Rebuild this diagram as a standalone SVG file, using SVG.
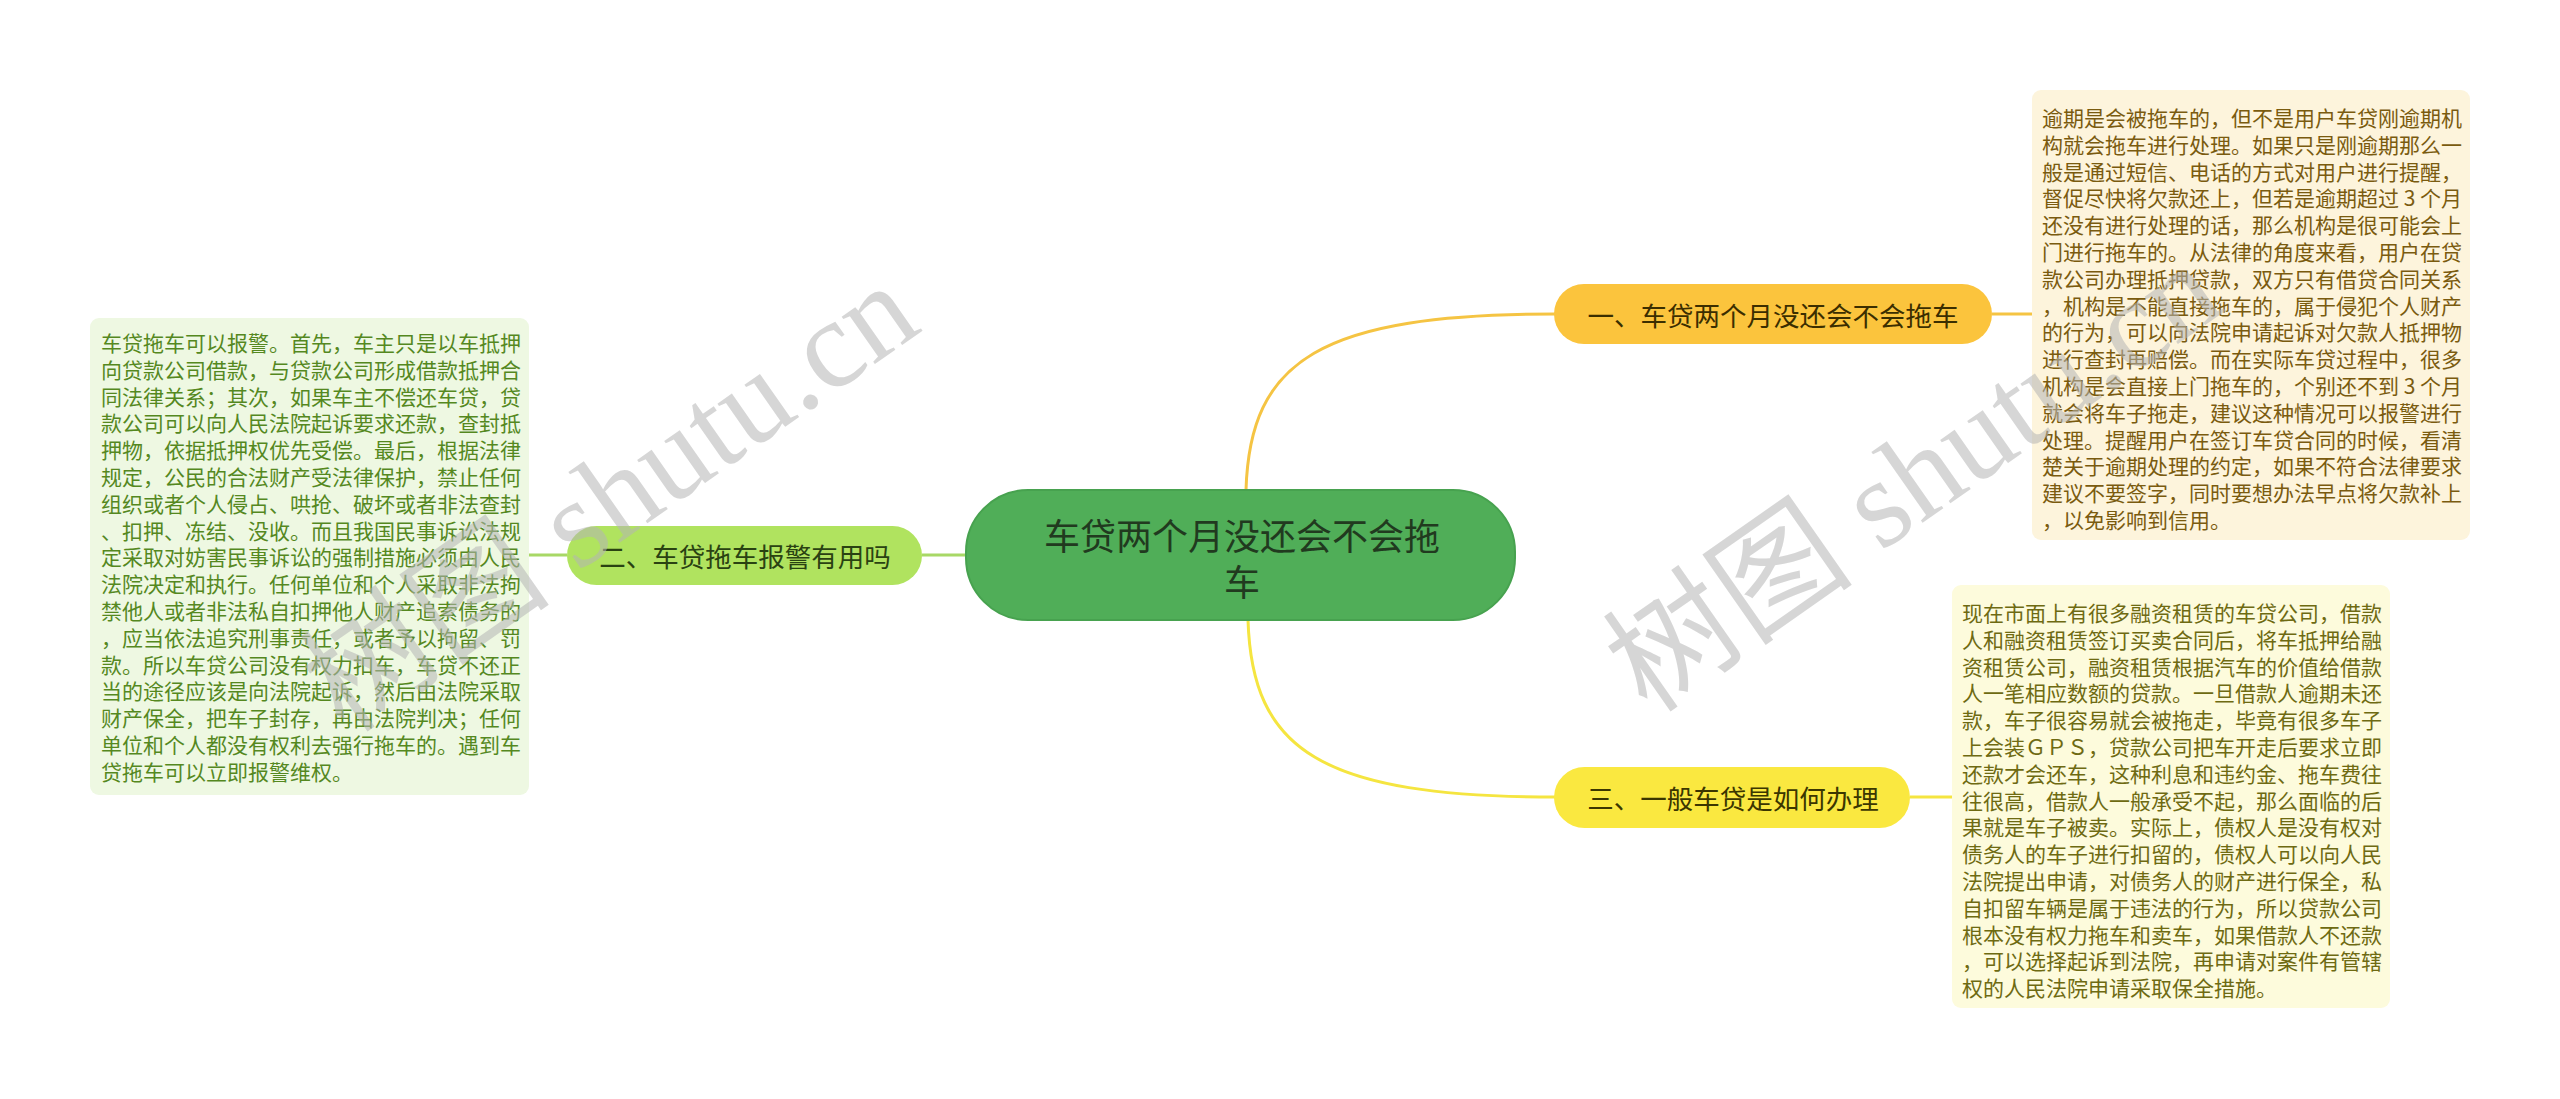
<svg xmlns="http://www.w3.org/2000/svg" width="2560" height="1099" viewBox="0 0 2560 1099">
<style>
.leaf{font-family:"Noto Sans CJK SC","Noto Sans",sans-serif;font-size:21px;dominant-baseline:central}
.lt{fill:#55881f}
.tr{fill:#7a5b0f}
.br{fill:#6e6a12}
.lbl{font-family:"Noto Sans CJK SC","Noto Sans",sans-serif;font-size:26.5px;text-anchor:middle;dominant-baseline:central}
.conn{fill:none;stroke-width:3}
.wm{font-family:"Liberation Serif","Noto Sans CJK SC",serif;font-size:126px;fill:#b4b4b4;fill-opacity:0.55}
</style>
<rect width="2560" height="1099" fill="#ffffff"/>
<g id="connectors">
<path class="conn" stroke="#f5c443" d="M1246,490 C1250,360 1320,314 1556,314"/>
<path class="conn" stroke="#f5e540" d="M1248,620 C1252,750 1320,797 1556,797"/>
<path class="conn" stroke="#a8d866" d="M966,555 L922,555"/>
<path class="conn" stroke="#a8d866" d="M567,555 L528,555"/>
<path class="conn" stroke="#f5c443" d="M1992,314 L2033,314"/>
<path class="conn" stroke="#f5e540" d="M1910,797 L1952,797"/>
</g>
<g id="center">
<rect x="966" y="490" width="549" height="130" rx="62" ry="62" fill="#50ae58" stroke="#47a24f" stroke-width="2"/>
<text font-family="'Noto Sans CJK SC','Noto Sans',sans-serif" font-size="36" fill="#213a1f" text-anchor="middle" dominant-baseline="central"><tspan x="1242" y="534">车贷两个月没还会不会拖</tspan><tspan x="1242" y="580">车</tspan></text>
</g>
<g id="node1">
<rect x="1554" y="284" width="438" height="60" rx="30" fill="#fbc43d"/>
<text class="lbl" x="1773" y="314" fill="#3b2e00">一、车贷两个月没还会不会拖车</text>
</g>
<g id="node2">
<rect x="567" y="526" width="355" height="59" rx="29.5" fill="#b0e35f"/>
<text class="lbl" x="745" y="555.5" fill="#2a4212">二、车贷拖车报警有用吗</text>
</g>
<g id="node3">
<rect x="1554" y="767" width="356" height="61" rx="30.5" fill="#fae840"/>
<text class="lbl" x="1733" y="797.5" fill="#3b3600">三、一般车贷是如何办理</text>
</g>
<g id="leaf-left">
<rect x="90" y="318" width="439" height="477" rx="9" fill="#eef8e2"/>
<text class="leaf lt">
<tspan x="101" y="342">车贷拖车可以报警。首先，车主只是以车抵押</tspan>
<tspan x="101" y="368.8">向贷款公司借款，与贷款公司形成借款抵押合</tspan>
<tspan x="101" y="395.6">同法律关系；其次，如果车主不偿还车贷，贷</tspan>
<tspan x="101" y="422.4">款公司可以向人民法院起诉要求还款，查封抵</tspan>
<tspan x="101" y="449.2">押物，依据抵押权优先受偿。最后，根据法律</tspan>
<tspan x="101" y="476">规定，公民的合法财产受法律保护，禁止任何</tspan>
<tspan x="101" y="502.8">组织或者个人侵占、哄抢、破坏或者非法查封</tspan>
<tspan x="101" y="529.6">、扣押、冻结、没收。而且我国民事诉讼法规</tspan>
<tspan x="101" y="556.4">定采取对妨害民事诉讼的强制措施必须由人民</tspan>
<tspan x="101" y="583.2">法院决定和执行。任何单位和个人采取非法拘</tspan>
<tspan x="101" y="610">禁他人或者非法私自扣押他人财产追索债务的</tspan>
<tspan x="101" y="636.8">，应当依法追究刑事责任，或者予以拘留、罚</tspan>
<tspan x="101" y="663.6">款。所以车贷公司没有权力扣车，车贷不还正</tspan>
<tspan x="101" y="690.4">当的途径应该是向法院起诉，然后由法院采取</tspan>
<tspan x="101" y="717.2">财产保全，把车子封存，再由法院判决；任何</tspan>
<tspan x="101" y="744">单位和个人都没有权利去强行拖车的。遇到车</tspan>
<tspan x="101" y="770.8">贷拖车可以立即报警维权。</tspan>
</text>
</g>
<g id="leaf-top-right">
<rect x="2032" y="90" width="438" height="450" rx="9" fill="#fdf4dc"/>
<text class="leaf tr">
<tspan x="2042" y="117">逾期是会被拖车的，但不是用户车贷刚逾期机</tspan>
<tspan x="2042" y="143.8">构就会拖车进行处理。如果只是刚逾期那么一</tspan>
<tspan x="2042" y="170.6">般是通过短信、电话的方式对用户进行提醒，</tspan>
<tspan x="2042" y="197.4">督促尽快将欠款还上，但若是逾期超过 3 个月</tspan>
<tspan x="2042" y="224.2">还没有进行处理的话，那么机构是很可能会上</tspan>
<tspan x="2042" y="251">门进行拖车的。从法律的角度来看，用户在贷</tspan>
<tspan x="2042" y="277.8">款公司办理抵押贷款，双方只有借贷合同关系</tspan>
<tspan x="2042" y="304.6">，机构是不能直接拖车的，属于侵犯个人财产</tspan>
<tspan x="2042" y="331.4">的行为，可以向法院申请起诉对欠款人抵押物</tspan>
<tspan x="2042" y="358.2">进行查封再赔偿。而在实际车贷过程中，很多</tspan>
<tspan x="2042" y="385">机构是会直接上门拖车的，个别还不到 3 个月</tspan>
<tspan x="2042" y="411.8">就会将车子拖走，建议这种情况可以报警进行</tspan>
<tspan x="2042" y="438.6">处理。提醒用户在签订车贷合同的时候，看清</tspan>
<tspan x="2042" y="465.4">楚关于逾期处理的约定，如果不符合法律要求</tspan>
<tspan x="2042" y="492.2">建议不要签字，同时要想办法早点将欠款补上</tspan>
<tspan x="2042" y="519">，以免影响到信用。</tspan>
</text>
</g>
<g id="leaf-bottom-right">
<rect x="1952" y="585" width="438" height="423" rx="9" fill="#fdfbdc"/>
<text class="leaf br">
<tspan x="1962" y="612">现在市面上有很多融资租赁的车贷公司，借款</tspan>
<tspan x="1962" y="638.8">人和融资租赁签订买卖合同后，将车抵押给融</tspan>
<tspan x="1962" y="665.6">资租赁公司，融资租赁根据汽车的价值给借款</tspan>
<tspan x="1962" y="692.4">人一笔相应数额的贷款。一旦借款人逾期未还</tspan>
<tspan x="1962" y="719.2">款，车子很容易就会被拖走，毕竟有很多车子</tspan>
<tspan x="1962" y="746">上会装ＧＰＳ，贷款公司把车开走后要求立即</tspan>
<tspan x="1962" y="772.8">还款才会还车，这种利息和违约金、拖车费往</tspan>
<tspan x="1962" y="799.6">往很高，借款人一般承受不起，那么面临的后</tspan>
<tspan x="1962" y="826.4">果就是车子被卖。实际上，债权人是没有权对</tspan>
<tspan x="1962" y="853.2">债务人的车子进行扣留的，债权人可以向人民</tspan>
<tspan x="1962" y="880">法院提出申请，对债务人的财产进行保全，私</tspan>
<tspan x="1962" y="906.8">自扣留车辆是属于违法的行为，所以贷款公司</tspan>
<tspan x="1962" y="933.6">根本没有权力拖车和卖车，如果借款人不还款</tspan>
<tspan x="1962" y="960.4">，可以选择起诉到法院，再申请对案件有管辖</tspan>
<tspan x="1962" y="987.2">权的人民法院申请采取保全措施。</tspan>
</text>
</g>
<g id="watermarks">
<text class="wm" transform="translate(345,735) rotate(-35)">树图 shutu.cn</text>
<text class="wm" transform="translate(1648,715) rotate(-35)">树图 shutu.cn</text>
</g>
</svg>
